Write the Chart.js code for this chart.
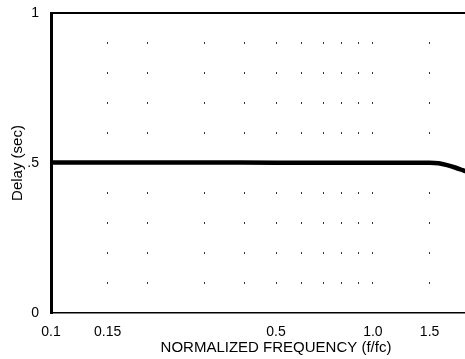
<!DOCTYPE html>
<html>
<head>
<meta charset="utf-8">
<script src="https://cdn.jsdelivr.net/npm/chart.js@4"></script>
<style>
  html, body { margin: 0; padding: 0; background: #fff; }
  #wrap { width: 465px; height: 359px; overflow: hidden; }
</style>
</head>
<body>
<div id="wrap">
  <canvas id="delayChart" width="505" height="359"></canvas>
</div>
<script>
// Group delay vs normalized frequency
const freq  = [0.1, 0.15, 0.2, 0.3, 0.5, 0.7, 1.0, 1.3, 1.5, 1.6, 1.7, 1.8, 1.9, 2.0];
const delay = [0.502, 0.502, 0.502, 0.502, 0.501, 0.501, 0.501, 0.501, 0.501, 0.499, 0.493, 0.485, 0.476, 0.467];

// grid columns and the ones that get a label
const xGrid = [0.1, 0.15, 0.2, 0.3, 0.4, 0.5, 0.6, 0.7, 0.8, 0.9, 1.0, 1.5];
const xTickValues = [0.1, 0.15, 0.5, 1.0, 1.5];
const xTickText   = ['0.1', '0.15', '0.5', '1.0', '1.5'];
const yTickValues = [0, 0.5, 1];
const yTickText   = ['0', '.5', '1'];

const font = "'Liberation Sans', Arial, Helvetica, sans-serif";

// solid frame line along the top of the plot
const topFrame = {
  id: 'topFrame',
  afterDraw(chart) {
    const { ctx, chartArea } = chart;
    ctx.save();
    ctx.strokeStyle = '#000';
    ctx.lineWidth = 2;
    ctx.beginPath();
    ctx.moveTo(chartArea.left, chartArea.top);
    ctx.lineTo(chartArea.right, chartArea.top);
    ctx.stroke();
    ctx.restore();
  }
};

new Chart(document.getElementById('delayChart'), {
  type: 'line',
  data: {
    datasets: [{
      data: freq.map((f, i) => ({ x: f, y: delay[i] })),
      borderColor: '#000',
      borderWidth: 4.5,
      pointRadius: 0,
      cubicInterpolationMode: 'monotone',
      fill: false
    }]
  },
  options: {
    responsive: false,
    animation: false,
    layout: { padding: { top: 13, right: 4, left: 0, bottom: 0 } },
    plugins: { legend: { display: false }, tooltip: { enabled: false } },
    scales: {
      x: {
        type: 'logarithmic',
        min: 0.1,
        max: 2.5,
        afterBuildTicks: scale => { scale.ticks = xGrid.map(v => ({ value: v })); },
        afterFit: scale => { scale.height = 46; },
        grid: { color: '#333', lineWidth: 1, drawTicks: false },
        border: { color: '#000', width: 1.5, dash: [2, 28], dashOffset: 1 },
        ticks: {
          autoSkip: false,
          maxRotation: 0,
          padding: 11,
          color: '#000',
          font: { family: font, size: 14 },
          callback: v => {
            const i = xTickValues.findIndex(t => Math.abs(t - v) < 1e-9);
            return i >= 0 ? xTickText[i] : '';
          }
        },
        title: {
          display: true,
          text: 'NORMALIZED FREQUENCY (f/fc)',
          color: '#000',
          font: { family: font, size: 15 },
          padding: { top: 0, bottom: 2 }
        }
      },
      y: {
        min: 0,
        max: 1,
        afterBuildTicks: scale => { scale.ticks = yTickValues.map(v => ({ value: v })); },
        afterFit: scale => {
          scale.width = 51;
          // let the end labels overhang the plot instead of shrinking it
          scale.paddingTop = 0;
          scale.paddingBottom = 0;
        },
        grid: { display: false, drawTicks: false },
        border: { color: '#000', width: 3 },
        ticks: {
          padding: 12,
          color: '#000',
          font: { family: font, size: 14 },
          callback: v => yTickText[yTickValues.indexOf(v)]
        },
        title: {
          display: true,
          text: 'Delay (sec)',
          color: '#000',
          font: { family: font, size: 15 },
          padding: { top: 9, bottom: 0 }
        }
      }
    }
  },
  plugins: [topFrame]
});
</script>
</body>
</html>
